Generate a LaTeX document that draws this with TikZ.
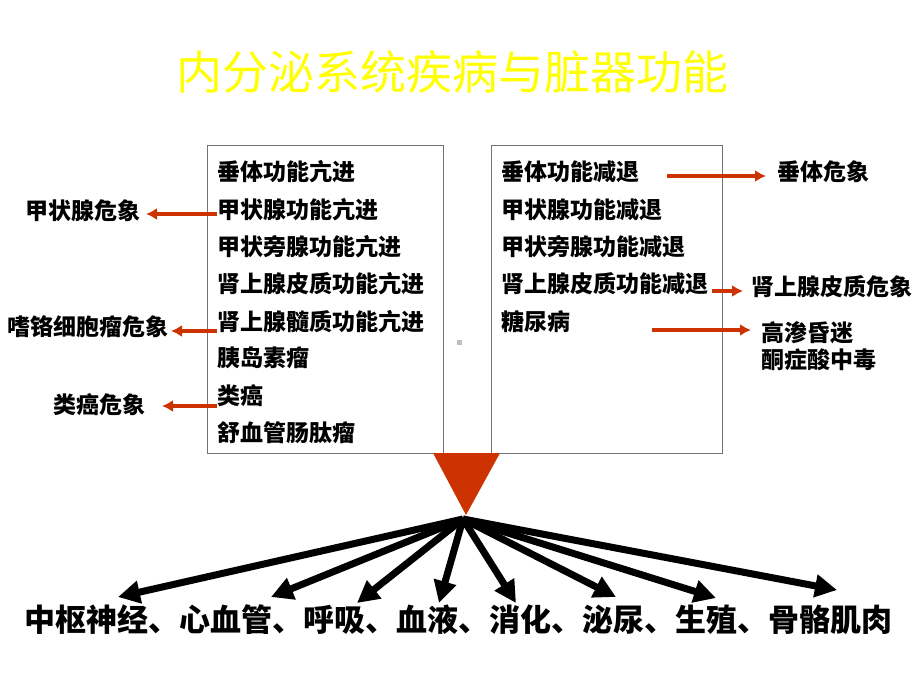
\documentclass[tikz,border=0pt]{standalone}
\usepackage{fontspec}
\setmainfont{Noto Sans CJK SC}
\usetikzlibrary{arrows.meta, positioning}
\definecolor{alarm}{HTML}{CC3300}
\definecolor{heading}{HTML}{FFFF00}

\begin{document}
\begin{tikzpicture}[
  x=1pt, y={(0pt,-1pt)},
  every node/.style={font=\fontsize{23}{27}\selectfont\bfseries, inner sep=0pt},
  item/.style={anchor=west},
  panel/.style={rectangle, draw=black!55, line width=1.3pt, anchor=north west, minimum width=236pt, minimum height=308pt},
  crisis/.style={align=left},
  redarr/.style={alarm, line width=3.2pt, -{Latex[length=11pt,width=12pt]}},
  bigarr/.style={black, line width=7pt, -{Triangle[length=22pt,width=22pt]}}
]
\fill[white] (0,0) rectangle (920,690);
\useasboundingbox (0,0) rectangle (920,690);

% Title
\node[font=\fontsize{46}{50}\selectfont, text=heading] (title) at (452,72) {内分泌系统疾病与脏器功能};

% Panels
\node[panel] (hyper) at (207,145) {};
\node[panel, minimum width=231pt] (hypo) at (491,145) {};
\fill[black!25] (457,340) rectangle (462,345);

% Left list
\node[item] (h1) at (217,172) {垂体功能亢进};
\node[item] (h2) at (217,210) {甲状腺功能亢进};
\node[item] (h3) at (217,247) {甲状旁腺功能亢进};
\node[item] (h4) at (217,284) {肾上腺皮质功能亢进};
\node[item] (h5) at (217,322) {肾上腺髓质功能亢进};
\node[item] (h6) at (217,358) {胰岛素瘤};
\node[item] (h7) at (217,396) {类癌};
\node[item] (h8) at (217,433) {舒血管肠肽瘤};

% Right list
\node[item] (d1) at (501,172) {垂体功能减退};
\node[item] (d2) at (501,210) {甲状腺功能减退};
\node[item] (d3) at (501,247) {甲状旁腺功能减退};
\node[item] (d4) at (501,284) {肾上腺皮质功能减退};
\node[item] (d5) at (501,322) {糖尿病};

% Crises
\node[crisis, anchor=east] (c1) at (141,211) {甲状腺危象};
\node[crisis, anchor=east] (c2) at (169,327) {嗜铬细胞瘤危象};
\node[crisis, anchor=east] (c3) at (146,405) {类癌危象};
\node[crisis, anchor=west] (c4) at (777,172) {垂体危象};
\node[crisis, anchor=west] (c5) at (751,287) {肾上腺皮质危象};
\node[crisis, anchor=west] (c6) at (761,346) {高渗昏迷\\酮症酸中毒};

% Red arrows
\draw[redarr, shorten >=5pt] ([yshift=-4pt]h2.west) -- ([yshift=-4pt]h2.west -| c1.east);
\draw[redarr, shorten >=2pt] ([yshift=-9pt]h5.west) -- ([yshift=-9pt]h5.west -| c2.east);
\draw[redarr, shorten >=16pt] ([yshift=-10pt]h7.west) -- ([yshift=-10pt]h7.west -| c3.east);
\draw[redarr, shorten >=11pt] ([xshift=28pt,yshift=-4pt]d1.east) -- ([yshift=-4pt]d1.east -| c4.west);
\draw[redarr, shorten >=8pt] ([xshift=4pt,yshift=-7pt]d4.east) -- ([yshift=-7pt]d4.east -| c5.west);
\draw[redarr, shorten >=10pt] ([xshift=82pt,yshift=-8pt]d5.east) -- ([yshift=-8pt]d5.east -| c6.west);

% Funnel and organs
\fill[alarm] (433,453) -- (500,453) -- (466,515) -- cycle;
\coordinate (hub) at (463,519);
\node[font=\fontsize{31}{36}\selectfont\bfseries] (organs) at (458,620) {中枢神经、心血管、呼吸、血液、消化、泌尿、生殖、骨骼肌肉};
\coordinate (t1) at (118,597);
\coordinate (t2) at (271,597);
\coordinate (t3) at (357,603);
\coordinate (t4) at (439,603);
\coordinate (t5) at (516,603);
\coordinate (t6) at (616,597);
\coordinate (t7) at (716,598);
\coordinate (t8) at (837,590);

% Black arrows
\draw[bigarr] (hub) -- (t1);
\draw[bigarr] (hub) -- (t2);
\draw[bigarr] (hub) -- (t3);
\draw[bigarr] (hub) -- (t4);
\draw[bigarr] (hub) -- (t5);
\draw[bigarr] (hub) -- (t6);
\draw[bigarr] (hub) -- (t7);
\draw[bigarr] (hub) -- (t8);

\end{tikzpicture}
\end{document}
